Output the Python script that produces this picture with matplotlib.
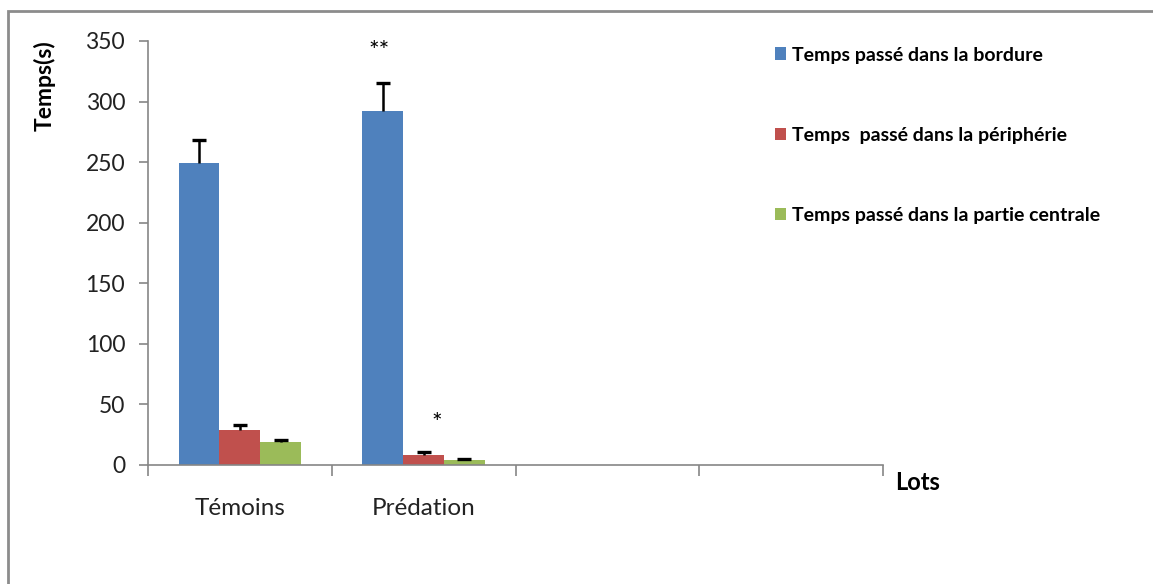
import numpy as np
import matplotlib
matplotlib.use("Agg")
import matplotlib.pyplot as plt
from matplotlib.patches import Rectangle

plt.rcParams['font.family'] = ['Lato', 'DejaVu Sans']

# Données
lots = ['Témoins', 'Prédation', '', '']
series = ['Temps passé dans la bordure',
          'Temps  passé dans la périphérie',
          'Temps passé dans la partie centrale']
bordure = [249, 292]
peripherie = [29, 8]
centrale = [19, 4]
err_bordure = [19, 23]
err_peripherie = [4, 2.5]
err_centrale = [1.5, 0.8]
signif = ['**', '*']  # Prédation : bordure, périphérie
signif_y = [341, 34]

colors = ['#4F81BD', '#C0504D', '#9BBB59']

fig = plt.figure(figsize=(11.53, 5.84), dpi=100)
ax = fig.add_axes([0.1284, 0.2038, 0.6374, 0.726])

# Cadre du graphique
fig.patches.append(Rectangle((0.0069, -0.2), 1.5, 0.981 + 0.2, transform=fig.transFigure,
                             fill=False, edgecolor='#8c8c8c', linewidth=2))

w = 1 / 4.5
x = np.arange(len(bordure))
vals = [bordure, peripherie, centrale]
errs = [err_bordure, err_peripherie, err_centrale]
for k in range(3):
    pos = x + (k - 1) * w
    top = np.array(vals[k]) + np.array(errs[k])
    ax.bar(pos, vals[k], width=w, color=colors[k], label=series[k], zorder=2)
    # barre d'erreur vers le haut seulement
    ax.vlines(pos, vals[k], top, color='black', linewidth=1.8, zorder=3)
    ax.plot(pos, top, ls='none', marker='_', markersize=10, mew=2.4, color='black', zorder=3)

# Étoiles de significativité
ax.text(x[1] - w - 0.02, signif_y[0], signif[0], ha='center', va='center', fontsize=18)
ax.text(x[1] + 0.07, signif_y[1], signif[1], ha='center', va='center', fontsize=18)

ax.set_xlim(-0.5, 3.5)
ax.set_ylim(0, 350)
ax.set_yticks(np.arange(0, 351, 50))
ax.set_xticks(np.arange(4))
ax.set_xticklabels(lots)
ax.set_xticks(np.arange(-0.5, 3.6, 1), minor=True)
ax.tick_params(axis='x', which='major', length=0, pad=24, labelsize=17.5, colors='#222222')
ax.tick_params(axis='x', which='minor', length=8, color='#868686', width=1.2)
ax.tick_params(axis='y', length=6.5, color='#868686', width=1.2, labelsize=16.5,
               labelcolor='#222222', pad=10)

for s in ['top', 'right']:
    ax.spines[s].set_visible(False)
for s in ['left', 'bottom']:
    ax.spines[s].set_color('#868686')
    ax.spines[s].set_linewidth(1.2)

fig.text(45 / 1153, 1 - 86 / 584, 'Temps(s)', rotation=90, ha='center', va='center',
         fontsize=16.5, fontweight='bold')
fig.text(895 / 1153, 1 - 482 / 584, 'Lots', ha='left', va='center',
         fontsize=17, fontweight='bold')

leg = fig.legend(loc='upper left', bbox_to_anchor=(757 / 1153, 1 - 29 / 584), frameon=False,
                 prop={'weight': 'bold', 'size': 14}, handlelength=0.6, handleheight=0.6,
                 handletextpad=0.3, labelspacing=3.25)

fig.savefig('out.png', dpi=100)
